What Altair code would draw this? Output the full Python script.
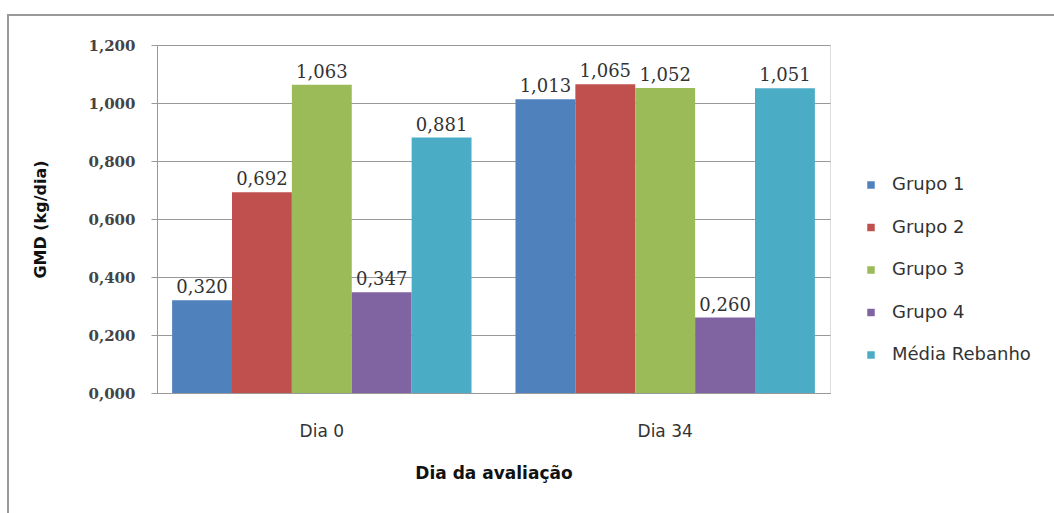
import altair as alt
import pandas as pd

dias = ["Dia 0", "Dia 34"]
grupos = ["Grupo 1", "Grupo 2", "Grupo 3", "Grupo 4", "Média Rebanho"]
dia0 = [0.320, 0.692, 1.063, 0.347, 0.881]
dia34 = [1.013, 1.065, 1.052, 0.260, 1.051]
cores = ["#4F81BD", "#C0504D", "#9BBB59", "#8064A2", "#4BACC6"]

rows = []
for d, vals in zip(dias, [dia0, dia34]):
    for g, v in zip(grupos, vals):
        rows.append({"Dia": d, "Grupo": g, "GMD": v,
                     "rot": f"{v:.3f}".replace(".", ",")})
df = pd.DataFrame(rows)

W, H = 673, 348
L, T = 157, 45

xenc = alt.X("Dia:N", sort=dias,
             scale=alt.Scale(paddingInner=0.128, paddingOuter=0.044),
             axis=alt.Axis(title="Dia da avaliação", labelAngle=0,
                           labelFont="DejaVu Sans", labelFontSize=17, labelColor="#333",
                           labelPadding=30, ticks=False, domainColor="#999",
                           titleFont="DejaVu Sans", titleFontSize=17, titleFontWeight="bold",
                           titleColor="#111", titlePadding=26))
xoff = alt.XOffset("Grupo:N", sort=grupos)
yenc = alt.Y("GMD:Q", scale=alt.Scale(domain=[0, 1.2]),
             axis=alt.Axis(title="GMD (kg/dia)", values=[0, 0.2, 0.4, 0.6, 0.8, 1.0, 1.2],
                           labelExpr="replace(format(datum.value, '.3f'), '.', ',')",
                           labelFont="DejaVu Serif", labelFontSize=15,
                           labelFontWeight="bold", labelColor="#444", labelPadding=16,
                           tickSize=6, tickColor="#999", domainColor="#999",
                           gridColor="#999", gridWidth=1.2,
                           titleFont="DejaVu Sans", titleFontSize=16, titleFontWeight="bold",
                           titleColor="#111", titlePadding=40))

bars = alt.Chart(df).mark_bar().encode(
    x=xenc, xOffset=xoff, y=yenc,
    color=alt.Color("Grupo:N", sort=grupos,
                    scale=alt.Scale(domain=grupos, range=cores),
                    legend=alt.Legend(title=None, orient="none", legendX=705, legendY=131,
                                      symbolType="square", symbolSize=56,
                                      symbolStrokeWidth=0, labelFont="DejaVu Sans",
                                      labelFontSize=18, labelColor="#333",
                                      rowPadding=24.5, labelOffset=12)),
)

labels = alt.Chart(df).mark_text(baseline="bottom", dy=-3, font="DejaVu Serif",
                                 fontSize=18, color="#333").encode(
    x=alt.X("Dia:N", sort=dias), xOffset=xoff, y="GMD:Q", text="rot:N")

frame = alt.Chart(df).mark_rect(fill=None, stroke="#999", strokeWidth=1.5).encode(
    x=alt.value(8 - L), x2=alt.value(1060 - L), y=alt.value(15 - T), y2=alt.value(520 - T))

chart = alt.layer(frame, bars, labels).properties(
    width=W, height=H,
    autosize=alt.AutoSizeParams(type="none"),
    padding={"left": L, "top": T, "right": 1054 - L - W, "bottom": 513 - T - H},
).configure_view(stroke=None).configure(background="white")

chart.save("out.html", embed_options={"renderer": "svg", "actions": False})
